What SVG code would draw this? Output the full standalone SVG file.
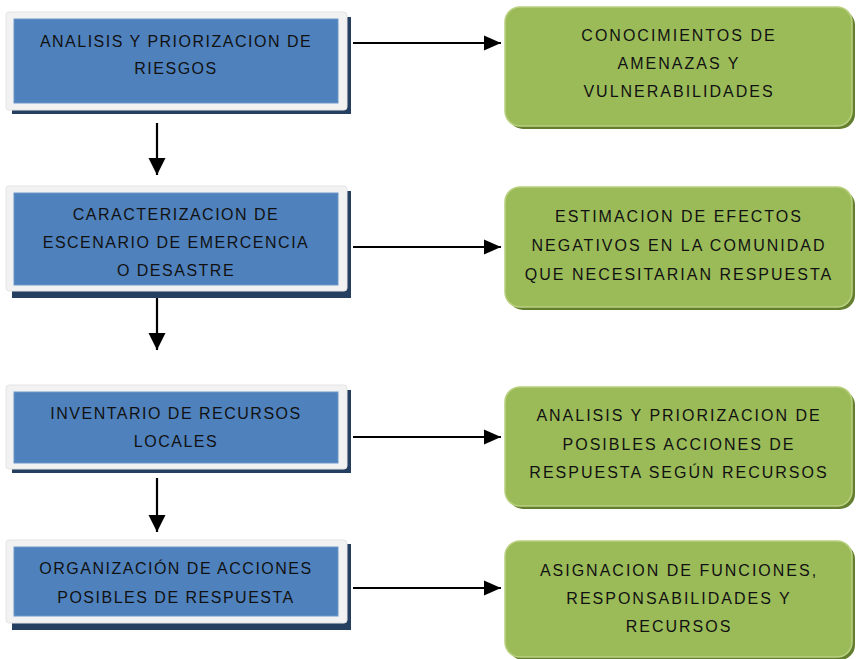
<svg xmlns="http://www.w3.org/2000/svg" width="857" height="659" viewBox="0 0 857 659">
<defs>
<style>
.shadow{fill:#243F60}
.frame{fill:#F2F2F2;stroke:#E4E4E4;stroke-width:1}
.blue{fill:#4F81BD;stroke:#6D96C8;stroke-width:1}
.gshadow{fill:#637E2F}
.green{fill:#9BBB59;stroke:#B9D07F;stroke-width:1.5}
.t{font-family:"Liberation Sans",Arial,sans-serif;font-size:16px;letter-spacing:1.5px;fill:#111;text-anchor:middle}
.tg{letter-spacing:2px}
.conn{stroke:#000;stroke-width:2.2;fill:none}
</style>
<marker id="ah" markerUnits="userSpaceOnUse" markerWidth="18" markerHeight="16" refX="17" refY="8" orient="auto">
<path d="M0,0.5 L17,8 L0,15.5 Z" fill="#000"/>
</marker>
<marker id="av" markerUnits="userSpaceOnUse" markerWidth="18" markerHeight="18" refX="17" refY="9" orient="auto">
<path d="M0,0.5 L17,9 L0,17.5 Z" fill="#000"/>
</marker>
</defs>
<rect width="857" height="659" fill="#fff"/>

<g id="connectors">
<line class="conn" x1="353" y1="43" x2="501" y2="43" marker-end="url(#ah)"/>
<line class="conn" x1="353" y1="247" x2="501" y2="247" marker-end="url(#ah)"/>
<line class="conn" x1="353" y1="437" x2="501" y2="437" marker-end="url(#ah)"/>
<line class="conn" x1="353" y1="588" x2="501" y2="588" marker-end="url(#ah)"/>
<line class="conn" x1="157" y1="123" x2="157" y2="175" stroke-width="3" marker-end="url(#av)"/>
<line class="conn" x1="157" y1="298" x2="157" y2="350" stroke-width="3" marker-end="url(#av)"/>
<line class="conn" x1="157" y1="478" x2="157" y2="532" stroke-width="3" marker-end="url(#av)"/>
</g>

<g id="b1">
<rect class="shadow" x="12" y="17" width="339" height="97"/>
<rect class="frame" x="6" y="12" width="341" height="98" rx="3"/>
<rect class="blue" x="14" y="19" width="324" height="84"/>
<text class="t" x="176" y="47">ANALISIS Y PRIORIZACION DE</text>
<text class="t" x="176" y="74">RIESGOS</text>
</g>

<g id="b2">
<rect class="shadow" x="12" y="191" width="339" height="107"/>
<rect class="frame" x="6" y="186" width="341" height="105" rx="3"/>
<rect class="blue" x="14" y="193" width="324" height="92"/>
<text class="t" x="176" y="220">CARACTERIZACION DE</text>
<text class="t" x="176" y="248">ESCENARIO DE EMERCENCIA</text>
<text class="t" x="176" y="276">O DESASTRE</text>
</g>

<g id="b3">
<rect class="shadow" x="12" y="390" width="339" height="83"/>
<rect class="frame" x="6" y="385" width="341" height="84" rx="3"/>
<rect class="blue" x="14" y="392" width="324" height="71"/>
<text class="t" x="176" y="419">INVENTARIO DE RECURSOS</text>
<text class="t" x="176" y="447">LOCALES</text>
</g>

<g id="b4">
<rect class="shadow" x="12" y="544" width="339" height="86"/>
<rect class="frame" x="6" y="540" width="341" height="83" rx="3"/>
<rect class="blue" x="14" y="547" width="324" height="69"/>
<text class="t" x="176" y="574">ORGANIZACIÓN DE ACCIONES</text>
<text class="t" x="176" y="603">POSIBLES DE RESPUESTA</text>
</g>

<g id="g1">
<rect class="gshadow" x="508" y="10" width="347" height="119" rx="15"/>
<rect class="green" x="505" y="7" width="347" height="119" rx="15"/>
<text class="t tg" x="679" y="41">CONOCIMIENTOS DE</text>
<text class="t tg" x="679" y="69">AMENAZAS Y</text>
<text class="t tg" x="679" y="97">VULNERABILIDADES</text>
</g>

<g id="g2">
<rect class="gshadow" x="508" y="190" width="347" height="120" rx="15"/>
<rect class="green" x="505" y="187" width="347" height="120" rx="15"/>
<text class="t tg" x="679" y="222">ESTIMACION DE EFECTOS</text>
<text class="t tg" x="679" y="251">NEGATIVOS EN LA COMUNIDAD</text>
<text class="t tg" x="679" y="280">QUE NECESITARIAN RESPUESTA</text>
</g>

<g id="g3">
<rect class="gshadow" x="508" y="390" width="347" height="119" rx="15"/>
<rect class="green" x="505" y="387" width="347" height="119" rx="15"/>
<text class="t tg" x="679" y="421">ANALISIS Y PRIORIZACION DE</text>
<text class="t tg" x="679" y="450">POSIBLES ACCIONES DE</text>
<text class="t tg" x="679" y="478">RESPUESTA SEGÚN RECURSOS</text>
</g>

<g id="g4">
<rect class="gshadow" x="508" y="544" width="347" height="116" rx="15"/>
<rect class="green" x="505" y="541" width="347" height="116" rx="15"/>
<text class="t tg" x="679" y="576">ASIGNACION DE FUNCIONES,</text>
<text class="t tg" x="679" y="604">RESPONSABILIDADES Y</text>
<text class="t tg" x="679" y="632">RECURSOS</text>
</g>
</svg>
